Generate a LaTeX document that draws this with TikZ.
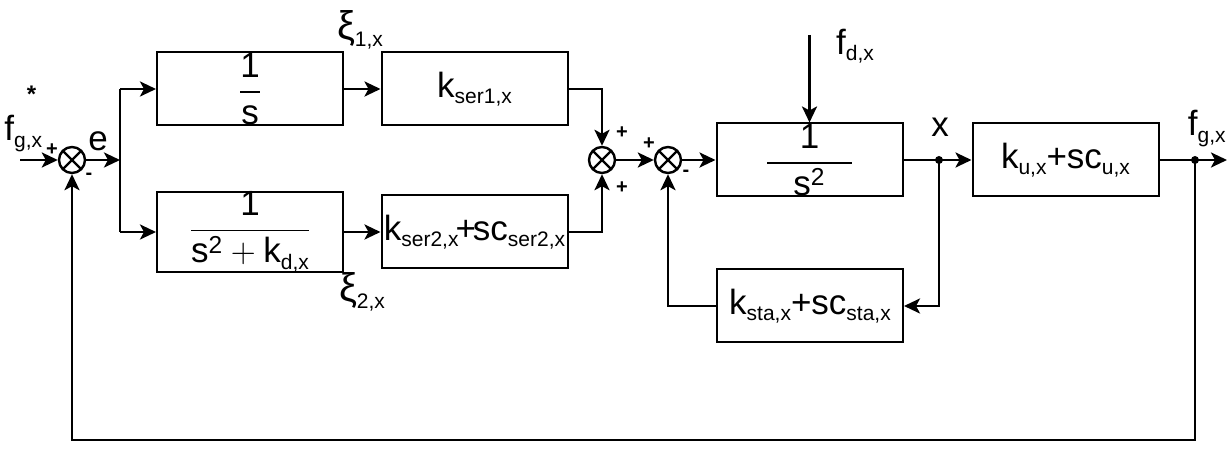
\documentclass[tikz,border=0pt]{standalone}
\usepackage{fontspec}
\setmainfont{Liberation Sans}
\usepackage{amsmath}
\usetikzlibrary{arrows.meta,positioning,calc}
\newcommand{\lowidx}[1]{\raisebox{-0.35ex}{\fontsize{10.5}{10.5}\selectfont #1}}

\begin{document}
\begin{tikzpicture}[
  x=0.5pt, y=-0.5pt,
  >={Stealth[length=8pt,width=7.5pt,inset=2pt]},
  block/.style={draw, line width=1pt, minimum width=93pt, minimum height=36.5pt,
                inner sep=0pt, font=\fontsize{17.5}{20}\selectfont},
  sumjn/.style={draw, circle, line width=1.2pt, minimum size=13pt, inner sep=0pt,
                path picture={\draw[line width=1.2pt]
                  (path picture bounding box.north west) -- (path picture bounding box.south east)
                  (path picture bounding box.north east) -- (path picture bounding box.south west);}},
  sig/.style={->, line width=1.4pt},
  wire/.style={line width=1.4pt},
  lbl/.style={font=\fontsize{17.5}{20}\selectfont, inner sep=0pt},
  sgn/.style={font=\fontsize{10}{10}\selectfont\bfseries, inner sep=0pt}
]
\useasboundingbox (0,0) rectangle (1227,459);
% blocks and summing junctions
\node[sumjn] (sum1) at (72,160) {};
\node[block] (intg) at (250,89)  {$\dfrac{\text{1}}{\text{s}}$};
\node[block] (ser1) at (474.5,89) {k\lowidx{ser1,x}};
\node[block] (lowp) at (250,232) {$\dfrac{\text{1}}{\text{s}^{\text{2}}+\text{k}\lowidx{d,x}}$};
\node[block] (ser2) at (474.5,232) {k\lowidx{ser2,x}\kern-1.5pt+\kern-1.5pt sc\lowidx{ser2,x}};
\node[sumjn] (sum2) at (602,160) {};
\node[sumjn] (sum3) at (668,160) {};
\node[block] (plant) at (809.5,160) {$\dfrac{\text{1}}{\hspace{13pt}\text{s}^{\text{2}}\hspace{13pt}}$};
\node[block] (ku)   at (1065.5,160) {k\lowidx{u,x}+sc\lowidx{u,x}};
\node[block] (sta)  at (810,306) {k\lowidx{sta,x}+sc\lowidx{sta,x}};
% free ends and branch points
\coordinate (in)   at (20,160);
\coordinate (br1)  at (120,160);
\coordinate (fdin) at (809.5,35);
\coordinate (brx)  at (939,160);
\coordinate (bro)  at (1195,160);
\coordinate (out)  at (1227,160);
\coordinate (bot)  at (1195,440);
% forward path
\draw[sig] (in) -- (sum1);
\draw[sig] (sum1) -- (br1);
\draw[wire] (intg.west -| br1) -- (lowp.west -| br1);
\draw[sig] (intg.west -| br1) -- (intg);
\draw[sig] (lowp.west -| br1) -- (lowp);
\draw[sig] (intg) -- (ser1);
\draw[sig] (lowp) -- (ser2);
\draw[sig] (ser1) -| (sum2);
\draw[sig] (ser2) -| (sum2);
\draw[sig] (sum2) -- (sum3);
\draw[sig] (sum3) -- (plant);
\draw[sig] (fdin) -- (plant);
\draw[sig] (plant) -- (ku);
\draw[sig] (ku) -- (out);
% feedback loops
\draw[sig] (brx) |- (sta);
\draw[sig] (sta) -| (sum3);
\draw[sig] (bro) -- (bot) -| (sum1);
\fill (brx) circle (2pt);
\fill (bro) circle (2pt);
% labels
\node[lbl, anchor=base west] (fref) at (4,141) {f\lowidx{g,x}\llap{\raisebox{2.1ex}{\fontsize{12}{12}\selectfont\bfseries *}\kern3pt}};
\node[lbl] (elbl) at (98,141) {e};
\node[lbl, font=\fontsize{20}{22}\selectfont] (xi1)  at (360,30)  {ξ\lowidx{1,x}};
\node[lbl, font=\fontsize{20}{22}\selectfont] (xi2)  at (362,292) {ξ\lowidx{2,x}};
\node[lbl] (fd)   at (855,46)  {f\lowidx{d,x}};
\node[lbl] (xlbl) at (940,127) {x};
\node[lbl, anchor=base east] (fout) at (1226,136) {f\lowidx{g,x}};
\node[sgn] (p1) at (52,150)  {+};
\node[sgn] (m1) at (89,176)  {-};
\node[sgn] (p2) at (622,133) {+};
\node[sgn] (p3) at (622,188) {+};
\node[sgn] (p4) at (649,144) {+};
\node[sgn] (m3) at (686,173) {-};
\end{tikzpicture}
\end{document}
